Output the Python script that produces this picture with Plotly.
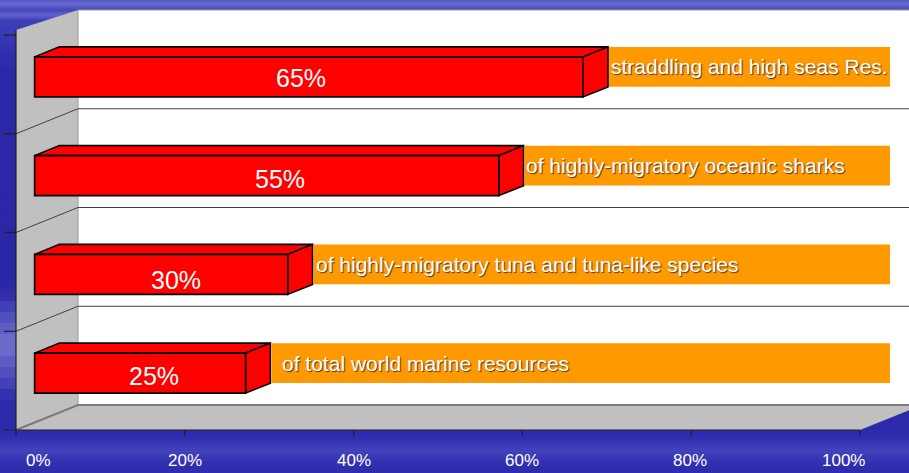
import plotly.graph_objects as go

# ---- data ----
categories = [
    "of total world marine resources",
    "of highly-migratory tuna and tuna-like species",
    "of highly-migratory oceanic sharks",
    "straddling and high seas Res.",
]
shares = [25, 30, 55, 65]
value_labels = ["25%", "30%", "55%", "65%"]
tick_values = [0, 20, 40, 60, 80, 100]
tick_labels = ["0%", "20%", "40%", "60%", "80%", "100%"]

# ---- geometry of the pseudo-3D frame ----
W, H = 909, 473
PX_PER_PCT = 8.44          # horizontal pixels per percent
X_ORIGIN_PX = 16           # pixel column of 0 % on the front plane
ROW_PX = 98.75             # pixel height of one category row
FLOOR_PX = 430             # pixel row of the front floor edge
DEPTH_X = 62 / PX_PER_PCT  # full depth offset, in axis units
DEPTH_Y = 25 / ROW_PX
N = len(categories)
BAR_HALF = 0.2025          # half bar height, in row units
BAR_D0, BAR_D1 = 0.3, 0.7  # bar depth slab
BOX_RIGHT = (890 - X_ORIGIN_PX) / PX_PER_PCT

# label placement (positions only)
value_label_x = [14.1, 16.7, 29.1, 31.6]
value_label_yshift = [-3, -6, -3, -1]
category_pad = [10, 1, 0, 1]
tick_label_xshift = [22, 0, 0, 0, -1, -17]

RED = "#FF0000"
ORANGE = "#FF9900"
GRAY = "#C0C0C0"
FONT = "Liberation Sans, Arial, sans-serif"


def pt(v, u, d):
    return v + d * DEPTH_X, u + d * DEPTH_Y


def path(points):
    s = "M " + " L ".join(f"{x:.4f},{y:.4f}" for x, y in points)
    return s + " Z"


def poly(points, fill, line="rgba(0,0,0,0)", width=0, layer="above"):
    return dict(type="path", xref="x", yref="y", path=path(points),
                fillcolor=fill, line=dict(color=line, width=width), layer=layer)


def seg(points, color, width):
    s = "M " + " L ".join(f"{x:.4f},{y:.4f}" for x, y in points)
    return dict(type="path", xref="x", yref="y", path=s,
                line=dict(color=color, width=width), layer="above")


shapes = []

# ---- backdrop: blue slide gradient ----
stops = [(0, (80, 86, 196)), (25, (60, 62, 184)), (70, (44, 40, 168)),
         (280, (42, 38, 166)), (330, (50, 48, 174)), (430, (44, 42, 170)),
         (455, (54, 54, 182)), (473, (46, 44, 172))]


def color_at(y):
    for (y0, c0), (y1, c1) in zip(stops[:-1], stops[1:]):
        if y0 <= y <= y1:
            t = (y - y0) / (y1 - y0) if y1 > y0 else 0
            return "rgb(%d,%d,%d)" % tuple(round(a + (b - a) * t) for a, b in zip(c0, c1))
    return "rgb(%d,%d,%d)" % stops[-1][1]


nstripes = 90
for k in range(nstripes):
    y0 = H * k / nstripes
    y1 = H * (k + 1) / nstripes
    shapes.append(dict(type="rect", xref="paper", yref="paper", x0=0, x1=1,
                       y0=1 - y1 / H, y1=1 - y0 / H + 0.002,
                       fillcolor=color_at((y0 + y1) / 2), line=dict(width=0), layer="below"))


def streak(x0, x1, yc, half, peak, steps=10):
    # soft horizontal haze band, fading towards its top and bottom
    out = []
    for j in range(steps):
        f0 = -1 + 2 * j / steps
        f1 = -1 + 2 * (j + 1) / steps
        a = peak * (1 - abs((f0 + f1) / 2))
        ya, yb = yc + f0 * half, yc + f1 * half
        out.append(dict(type="rect", xref="paper", yref="paper", x0=x0, x1=x1,
                        y0=1 - yb / H, y1=1 - ya / H,
                        fillcolor=f"rgba(170,170,235,{a:.3f})", line=dict(width=0),
                        layer="below"))
    return out


shapes += streak(0, 1, 4, 5, 0.3)
shapes += streak(0, 0.1, 15, 5, 0.3)
shapes += streak(0, 0.02, 345, 55, 0.55)
shapes += streak(0, 1, 450, 12, 0.12)

# ---- walls and floor ----
shapes.append(poly([pt(0, 0, 0), pt(0, 0, 1), pt(0, N, 1), pt(0, N + 0.05, 0)], GRAY, layer="below"))
shapes.append(poly([pt(0, 0, 1), pt(100, 0, 1), pt(100, N, 1), pt(0, N, 1)], "white",
                   line="#9a9a9a", width=1, layer="below"))
shapes.append(poly([pt(0, 0, 0), pt(0, 0, 1), pt(100, 0, 1), pt(100, 0, 0)], GRAY, layer="below"))

# gridlines on side and back walls
for k in range(1, N):
    shapes.append(seg([pt(0, k, 0), pt(0, k, 1), pt(100, k, 1)], "#404040", 1))
shapes.append(seg([pt(0, 0, 0), pt(0, 0, 1), pt(100, 0, 1)], "#7a7a7a", 2))

# front axes
tick_len = 12 / PX_PER_PCT
shapes.append(seg([pt(0, 0, 0), pt(0, N + 0.05, 0)], "#202020", 1.2))
shapes.append(seg([(-tick_len, 0), (100, 0)], "#202020", 1.2))
for k in range(1, N + 1):
    shapes.append(seg([(-tick_len, k), (0, k)], "#202020", 1.2))
for v in tick_values:
    shapes.append(seg([(v, 0), (v, -6 / ROW_PX)], "#202020", 1.2))

annotations = []

# ---- bars, label boxes and texts ----
for i, (cat, v, lab) in enumerate(zip(categories, shares, value_labels)):
    u = i + 0.5
    lo, hi = u - BAR_HALF, u + BAR_HALF
    front = [pt(0, lo, BAR_D0), pt(v, lo, BAR_D0), pt(v, hi, BAR_D0), pt(0, hi, BAR_D0)]
    top = [pt(0, hi, BAR_D0), pt(v, hi, BAR_D0), pt(v, hi, BAR_D1), pt(0, hi, BAR_D1)]
    side = [pt(v, lo, BAR_D0), pt(v, lo, BAR_D1), pt(v, hi, BAR_D1), pt(v, hi, BAR_D0)]
    for face in (top, side, front):
        shapes.append(poly(face, RED, line="black", width=1.6))

    bx0, by0 = pt(v, lo, BAR_D1)
    _, by1 = pt(v, hi, BAR_D1)
    shapes.append(dict(type="rect", xref="x", yref="y", x0=bx0 + 0.12, x1=BOX_RIGHT,
                       y0=by0, y1=by1, fillcolor=ORANGE, line=dict(width=0), layer="above"))

    annotations.append(dict(x=bx0, y=(by0 + by1) / 2, xref="x", yref="y", text=cat,
                            showarrow=False, xanchor="left", yanchor="middle",
                            xshift=category_pad[i],
                            font=dict(family=FONT, size=21, color="white",
                                      shadow="1px 1px 1px rgba(40,40,40,0.85)")))

    tx, ty = pt(value_label_x[i], u, BAR_D0)
    annotations.append(dict(x=tx, y=ty, xref="x", yref="y", text=lab, showarrow=False,
                            xanchor="center", yanchor="middle", yshift=value_label_yshift[i],
                            font=dict(family=FONT, size=25, color="white")))

# ---- percentage scale labels ----
for v, t, sh in zip(tick_values, tick_labels, tick_label_xshift):
    annotations.append(dict(x=v, y=-30 / ROW_PX, xref="x", yref="y", text=t, showarrow=False,
                            xanchor="center", yanchor="middle", xshift=sh,
                            font=dict(family=FONT, size=17, color="white")))

fig = go.Figure()
fig.update_layout(
    width=W, height=H,
    margin=dict(l=0, r=0, t=0, b=0),
    paper_bgcolor="rgb(44,40,168)",
    plot_bgcolor="rgba(0,0,0,0)",
    xaxis=dict(range=[-X_ORIGIN_PX / PX_PER_PCT, (W - X_ORIGIN_PX) / PX_PER_PCT],
               visible=False, fixedrange=True),
    yaxis=dict(range=[-(H - FLOOR_PX) / ROW_PX, FLOOR_PX / ROW_PX],
               visible=False, fixedrange=True),
    shapes=shapes,
    annotations=annotations,
    showlegend=False,
)

fig.write_html("out.html")
